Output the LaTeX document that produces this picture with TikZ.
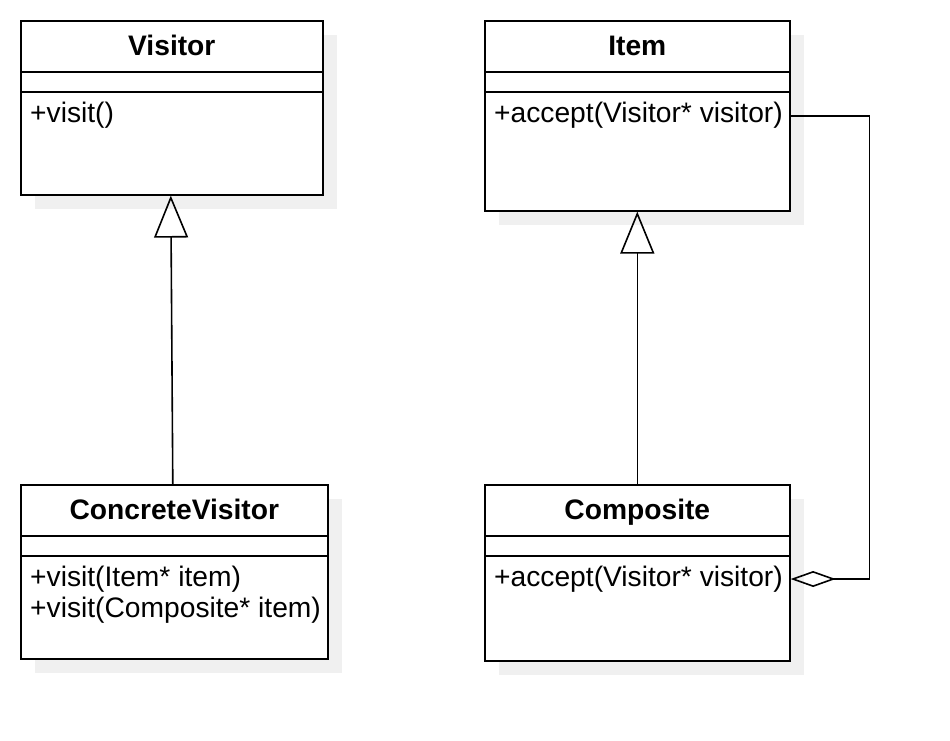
\documentclass[tikz,border=0pt]{standalone}
\usepackage{fontspec}
\setmainfont{Liberation Sans}
\usetikzlibrary{arrows.meta,shadows,calc}
\definecolor{shadowgray}{HTML}{F0F0F0}
\begin{document}
\begin{tikzpicture}[x=1pt,y=-1pt,
  umlbox/.style={draw=black, line width=1.6pt, fill=white, anchor=north west, inner sep=0pt,
    drop shadow={shadow xshift=14pt, shadow yshift=-14pt, fill=shadowgray, opacity=1}},
  umltitle/.style={font=\fontsize{28.2}{31}\selectfont\bfseries, inner sep=0pt, anchor=base},
  umltext/.style={font=\fontsize{28.2}{31}\selectfont, inner sep=0pt, anchor=base west},
  divider/.style={line width=1.6pt},
  inherit/.style={line width=1.6pt, -{Triangle[open, length=42pt, width=34pt, line width=1.6pt]}},
  aggr/.style={line width=1.6pt, -{Diamond[open, length=45pt, width=16pt, line width=1.6pt]}}
]
\useasboundingbox (0,0) rectangle (950,740);

% Visitor
\node[umlbox, minimum width=302pt, minimum height=174pt] (visitor) at (20,20) {};
\draw[divider] ($(visitor.north west)+(0,52)$) -- ($(visitor.north east)+(0,52)$);
\draw[divider] ($(visitor.north west)+(0,72)$) -- ($(visitor.north east)+(0,72)$);
\node[umltitle] (visitorT) at ($(visitor.north)+(0,35.5)$) {Visitor};
\node[umltext] (visitorM) at ($(visitor.north west)+(10,102)$) {+visit()};

% Item
\node[umlbox, minimum width=305pt, minimum height=190pt] (item) at (484,20) {};
\draw[divider] ($(item.north west)+(0,52)$) -- ($(item.north east)+(0,52)$);
\draw[divider] ($(item.north west)+(0,72)$) -- ($(item.north east)+(0,72)$);
\node[umltitle] (itemT) at ($(item.north)+(0,35.5)$) {Item};
\node[umltext] (itemM) at ($(item.north west)+(10,102)$) {+accept(Visitor* visitor)};

% ConcreteVisitor
\node[umlbox, minimum width=307pt, minimum height=174pt] (cvisitor) at (20,484) {};
\draw[divider] ($(cvisitor.north west)+(0,52)$) -- ($(cvisitor.north east)+(0,52)$);
\draw[divider] ($(cvisitor.north west)+(0,72)$) -- ($(cvisitor.north east)+(0,72)$);
\node[umltitle] (cvisitorT) at ($(cvisitor.north)+(0,35.5)$) {ConcreteVisitor};
\node[umltext] (cvisitorM1) at ($(cvisitor.north west)+(10,102.5)$) {+visit(Item* item)};
\node[umltext] (cvisitorM2) at ($(cvisitor.north west)+(10,133.5)$) {+visit(Composite* item)};

% Composite
\node[umlbox, minimum width=305pt, minimum height=176pt] (composite) at (484,484) {};
\draw[divider] ($(composite.north west)+(0,52)$) -- ($(composite.north east)+(0,52)$);
\draw[divider] ($(composite.north west)+(0,72)$) -- ($(composite.north east)+(0,72)$);
\node[umltitle] (compositeT) at ($(composite.north)+(0,35.5)$) {Composite};
\node[umltext] (compositeM) at ($(composite.north west)+(10,102)$) {+accept(Visitor* visitor)};

% Connectors
\draw[inherit] ($(cvisitor.north)+(-1.5,0)$) -- ($(visitor.south)+(-1,0)$);
\draw[inherit] (composite.north) -- (item.south);
\coordinate (aggrA) at ($(item.north east)+(0,96)$);
\coordinate (aggrB) at ($(composite.north east)+(0,95)$);
\draw[aggr] (aggrA) -- ($(aggrA)+(79,0)$) |- (aggrB);
\end{tikzpicture}
\end{document}
